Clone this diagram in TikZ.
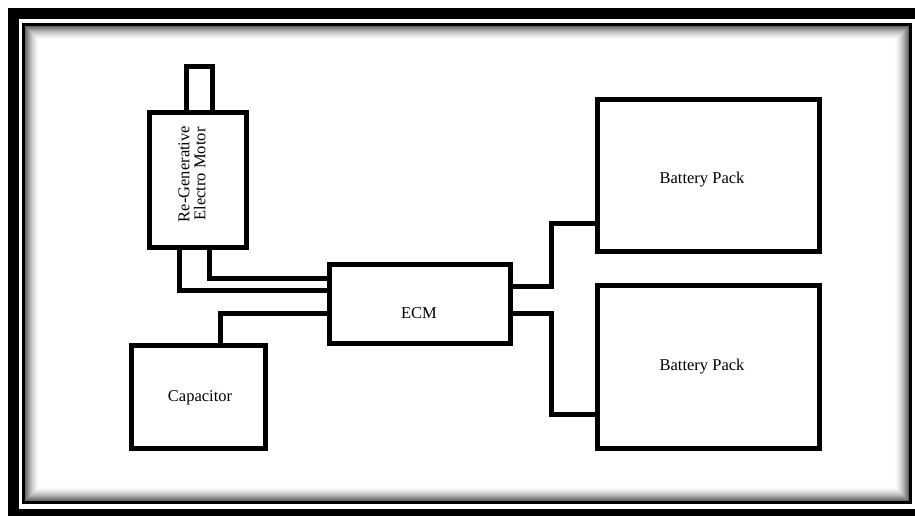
\documentclass[tikz,border=0pt]{standalone}
\usepackage{fontspec}
\setmainfont{Liberation Serif}
\begin{document}
\begin{tikzpicture}[x=1pt,y=-1pt,
  box/.style={draw=black,line width=5pt,rectangle,inner sep=0pt,outer sep=0pt},
  txt/.style={font=\fontsize{16.5}{19}\selectfont,align=center,inner sep=0pt},
  wire/.style={draw=black,line width=5pt,line join=miter}]
\useasboundingbox (0,0) rectangle (915,516);
\clip (0,0) rectangle (915,516);
\fill[white] (0,0) rectangle (915,516);
% outer frame
\draw[line width=11pt] (13.5,14) rectangle (925,514.5);
% inner frame
\draw[line width=3.5pt] (23.5,24.5) rectangle (910.5,502.5);
% inner shadow
\foreach \i in {0,...,13}{
  \pgfmathsetmacro\g{60*(1-\i/14)^1.6}
  \draw[line width=1.1pt,black!\g] (25.8+\i,26.8+\i) rectangle (908.2-\i,500.2-\i);
}
% boxes
\node[box,minimum width=26pt,minimum height=46pt] (shaft) at (199.5,89.5) {};
\node[box,minimum width=97pt,minimum height=135pt,fill=white,
  label={[txt,xshift=-4.5pt,yshift=6pt]center:\rotatebox{90}{\begin{tabular}{@{}c@{}}Re-Generative\\[-3pt]Electro Motor\end{tabular}}}] (motor) at (198,180) {};
\node[box,minimum width=181pt,minimum height=79pt,
  label={[txt,xshift=-1pt,yshift=-9pt]center:ECM}] (ecm) at (420,304) {};
\node[box,minimum width=134pt,minimum height=103pt,
  label={[txt,xshift=1.5pt,yshift=-1pt]center:Capacitor}] (cap) at (198.5,397) {};
\node[box,minimum width=222pt,minimum height=152pt,
  label={[txt,xshift=-6.5pt,yshift=-4.5pt]center:Battery Pack}] (bat1) at (708.5,175.5) {};
\node[box,minimum width=222pt,minimum height=163pt,
  label={[txt,xshift=-6.5pt]center:Battery Pack}] (bat2) at (708.5,367) {};
% wires
\draw[wire] (motor.south -| 179,0) |- (ecm.west |- 0,290.5);
\draw[wire] (motor.south -| 209.5,0) |- (ecm.west |- 0,278.5);
\draw[wire] (cap.north -| 220.5,0) |- (ecm.west |- 0,313.5);
\draw[wire] (ecm.east |- 0,286.5) -| (551,223) -- (bat1.west |- 0,223);
\draw[wire] (ecm.east |- 0,313.5) -| (551,414) -- (bat2.west |- 0,414);
\end{tikzpicture}
\end{document}
